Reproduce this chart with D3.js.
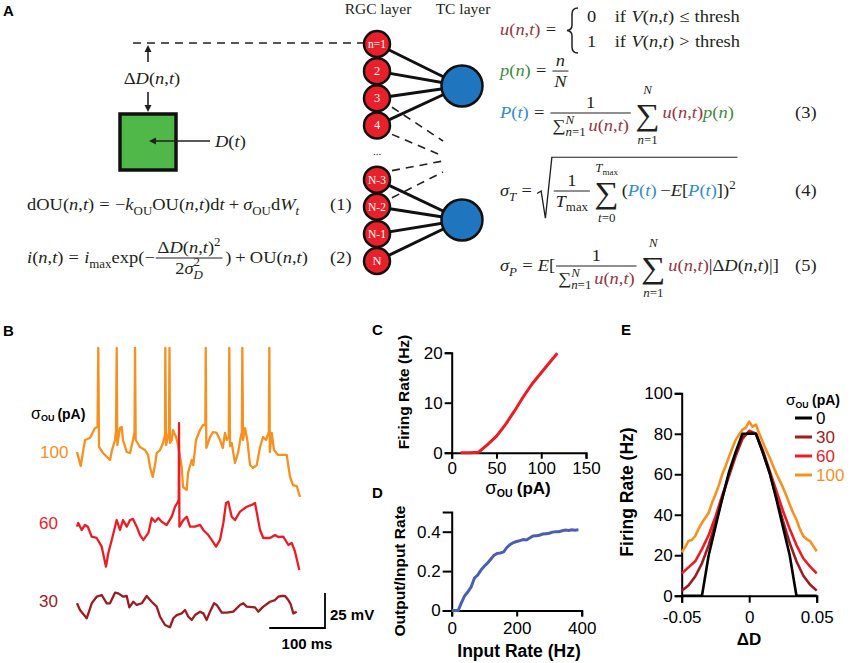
<!DOCTYPE html>
<html><head><meta charset="utf-8">
<script src="https://cdn.jsdelivr.net/npm/d3@7"></script>
<style>body{margin:0;background:#fff}svg{display:block}</style>
</head><body>
<svg id="fig" width="851" height="663"></svg>
<script>
// ================= DATA =================
// Panel B: membrane potential traces [time ms, mV]
const trace100 = [[0,-49.3],[6.6,-59.3],[14.4,-40.7],[23.3,-39.3],[32.3,-32.2],[36.8,-31.4],[38.2,25],[39.5,-45.7],[46.6,-50.0],[53.8,-52.9],[59.2,-55],[62.8,-47.9],[68.2,-40.7],[70.0,-33.6],[71.2,25],[72.3,-44.3],[77.1,-32.2],[80.2,-31.4],[82.5,-40.7],[89.2,-49.3],[95.1,-50.0],[100.5,-40.7],[103.2,-35.0],[104.1,25],[105.3,-40.7],[113.0,-45.7],[122.0,-47.9],[127.4,-51.4],[131.0,-60.0],[135.8,-67.1],[139.9,-58.6],[143.0,-50.0],[148.9,-47.9],[154.3,-42.9],[157.9,-37.2],[158.4,25],[159.7,-44.3],[162.0,-40.7],[165.0,-35.0],[165.9,25],[166.8,-42.9],[169.9,-40.7],[172.2,-33.6],[177.6,-38.6],[181.2,-44.3],[187.8,-60.0],[190.2,-74.3],[196.8,-76.4],[199.1,-64.3],[205.8,-55],[208.6,-58.6],[213.5,-40.7],[220.7,-33.6],[226.0,-30.0],[230.2,-30.0],[230.9,25],[232.0,-46.4],[238.6,-38.6],[244.0,-35.0],[250.6,-35.7],[256.5,-40.7],[261.4,-46.4],[265.5,-35.7],[268.6,-40.7],[272.2,-38.6],[273.2,25],[274.5,-45.0],[277.5,-42.9],[283.4,-57.1],[288.8,-50.0],[293.7,-38.6],[295.7,-35.0],[296.6,25],[297.8,-40.7],[301.4,-32.2],[305.5,-40.7],[310.4,-58.6],[315.7,-60.7],[322.4,-58.6],[328.3,-45.7],[333.7,-38.6],[339.1,-40.7],[344.1,-35.0],[345.0,25],[345.9,-49.3],[349.3,-35.7],[353.4,-47.9],[360.6,-51.4],[376.2,-51.4],[382.1,-67.1],[387.5,-72.9],[394.1,-73.6],[400,-81.4]];
const trace60 = [[0,-52.6],[2.3,-50.0],[8.4,-55],[14.4,-51.4],[19.7,-52.9],[26.4,-59.8],[35.3,-60.7],[44.3,-66.9],[52.0,-81.2],[56.2,-71.4],[62.3,-62.1],[71.2,-47.9],[77.1,-55],[82.5,-47.9],[89.2,-52.6],[95.1,-47.9],[100.5,-47.1],[107.1,-52.6],[113.0,-58.6],[119.0,-62.1],[128.0,-57.1],[134.0,-46.4],[139.9,-49.1],[145.9,-46.4],[151.9,-49.1],[160.9,-51.4],[169.9,-45.5],[175.8,-38.4],[179.9,-35.7],[182.4,-33.6],[183.0,21.4],[183.7,-52.6],[190.7,-47.9],[196.8,-45.5],[202.7,-52.6],[211.7,-52.6],[220.7,-51.4],[226.6,-55],[235.5,-58.6],[241.6,-62.1],[249.4,-66.9],[256.5,-62.1],[262.5,-50.0],[267.3,-35.7],[271.4,-34.8],[277.5,-45.5],[283.4,-47.9],[292.4,-41.9],[304.4,-38.4],[313.4,-37.1],[319.3,-35.7],[328.3,-55],[334.2,-60.7],[346.2,-60.7],[355.2,-58.6],[361.1,-60.0],[370.1,-59.8],[379.1,-65.7],[385.2,-64.3],[391.1,-70.5],[398.8,-83.6]];
const trace30 = [[0,-50.2],[5.4,-55],[17.4,-60.9],[26.4,-50.2],[35.3,-45.5],[44.3,-44.3],[53.3,-50.2],[59.2,-50.2],[68.2,-42.6],[74.1,-43.1],[83.1,-45.5],[89.2,-45.0],[93.8,-53.1],[101.0,-49.1],[107.1,-51.4],[116.1,-50.2],[125.0,-45.0],[134.0,-49.1],[143.0,-52.6],[148.9,-59.8],[157.9,-65.7],[166.8,-67.3],[172.8,-60.9],[178.9,-58.6],[187.8,-57.4],[193.7,-55],[199.7,-59.8],[205.8,-62.1],[211.7,-58.6],[220.7,-56.2],[226.6,-57.4],[232.6,-62.1],[238.6,-56.2],[245.8,-50.2],[250.6,-51.4],[259.6,-56.9],[268.6,-56.9],[280.4,-56.2],[292.4,-51.4],[298.3,-50.2],[304.4,-52.6],[319.3,-53.1],[325.2,-56.2],[334.2,-52.6],[346.2,-49.1],[355.2,-47.9],[361.1,-45.5],[367.2,-45.0],[373.1,-45.0],[379.1,-47.9],[383.1,-50.7],[388.1,-57.4],[394.1,-56.2]];
const traceLabels = ['100','60','30'];

// Panel C
const sigmaC = [10,20,30,40,50,60,70,80,90,100,110,118];
const rateC  = [0,0,0.1,1.6,3.3,5.6,8.3,11.2,13.8,16.0,18.2,19.9];
const ticksCx = [0,50,100,150], ticksCy = [0,10,20];

// Panel D
const inputD = [0,20,30,40,50,60,70,80,90,100,110,120,130,140,150,160,170,180,190,200,210,220,230,240,250,260,270,280,290,300,310,320,330,340,350,360,370,380,390];
const ratioD = [0,0,0.04,0.075,0.095,0.12,0.165,0.18,0.205,0.225,0.24,0.26,0.28,0.29,0.292,0.298,0.32,0.335,0.345,0.35,0.355,0.36,0.358,0.368,0.378,0.38,0.382,0.388,0.39,0.392,0.398,0.4,0.4,0.405,0.408,0.406,0.41,0.408,0.41];
const ticksDx = [0,200,400], ticksDy = [0,0.2,0.4];

// Panel E
const dD = [-0.05,-0.045,-0.04,-0.035,-0.03,-0.025,-0.02,-0.015,-0.01,-0.005,0,0.005,0.01,0.015,0.02,0.025,0.03,0.035,0.04,0.045,0.05];
const rateE0  = [0,0,0,0,20,34,48,61,71,80,80,80,71,61,48,34,20,0,0,0,0];
const rateE30 = [2.5,5,9.5,16,25,36,48,60,70,78,81,80,71,61,49,37,26,17,10,5.5,2.5];
const rateE60 = [11,14,17,23,30,39,49.5,59,69,77.5,81.5,80,72,62,52,42,33,25,18.5,14.5,11];
const dDfine = [-0.05,-0.0475,-0.045,-0.0425,-0.04,-0.0375,-0.035,-0.0325,-0.03,-0.0275,-0.025,-0.0225,-0.02,-0.0175,-0.015,-0.0125,-0.01,-0.0075,-0.005,-0.0025,0,0.0025,0.005,0.0075,0.01,0.0125,0.015,0.0175,0.02,0.0225,0.025,0.0275,0.03,0.0325,0.035,0.0375,0.04,0.0425,0.045,0.0475,0.05];
const rateE100 = [21.5,24,27,27.5,29.5,33,36,38.5,41,46,50,54.5,60,64,68.5,73,77,79.5,82,83,86,83.5,84.5,80,76,72,68.5,64.5,60.5,57,53.5,49.5,45,41,37.5,33,29.5,28,27,24.5,22];
const legendE = ['0','30','60','100'];
const ticksEx = [-0.05,0,0.05], ticksEy = [0,20,40,60,80,100];

// Panel A network
const rgcLabels = ['n=1','2','3','4','N-3','N-2','N-1','N'];

// ================= STYLE =================
const SANS = "'Liberation Sans', Arial, Helvetica, sans-serif";
const SERIF = "'Liberation Serif', 'Times New Roman', serif";
const INK = '#231f20';
const ORANGE = '#f7901e', RED = '#ec1c24', DRED = '#9e1b20';
const U = '#943444', G = '#3d8b40', B = '#2e8ccf';

const svg = d3.select('#fig');
svg.append('rect').attr('width',851).attr('height',663).attr('fill','#fff');

[['A',3,16],['B',3,336],['C',372,335],['D',372,498],['E',621,335]].forEach(([t,x,y])=>{
  svg.append('text').attr('x',x).attr('y',y).attr('font-family',SANS).attr('font-weight','bold').attr('font-size',15).attr('fill','#000').text(t);
});

// ================= math text helper =================
const r=(t,c)=>({t,c}), it=(t,c)=>({t,i:1,c}), sb=(t,ii)=>({t,sh:'sub',i:ii}), su=(t,ii)=>({t,sh:'sup',i:ii});
function mrow(g,x,y,items,fs){
  let cx=x;
  for(const q of items){
    if(typeof q==='number'){cx+=q*fs;continue;}
    if(q.frac){
      const gn=g.append('g'), gd=g.append('g');
      const wn=mrow(gn,0,0,q.frac[0],fs), wd=mrow(gd,0,0,q.frac[1],fs);
      const w=Math.max(wn,wd)+0.3*fs;
      const ax=y-0.3*fs;
      gn.attr('transform',`translate(${cx+(w-wn)/2},${ax-0.3*fs})`);
      gd.attr('transform',`translate(${cx+(w-wd)/2},${ax+(q.dd||0.95)*fs})`);
      g.append('line').attr('x1',cx+0.05*fs).attr('x2',cx+w-0.05*fs).attr('y1',ax).attr('y2',ax).attr('stroke',INK).attr('stroke-width',1);
      cx+=w+0.1*fs; continue;
    }
    if(q.sum){
      const big=g.append('text').attr('font-family',SERIF).attr('font-size',fs*1.85).attr('fill',INK).attr('y',y+0.42*fs).text('∑');
      const wb=big.node().getComputedTextLength();
      const gt=g.append('g'), gb=g.append('g');
      const wt=mrow(gt,0,0,q.sum[0],fs*0.7), wl=mrow(gb,0,0,q.sum[1],fs*0.7);
      const w=Math.max(wb,wt,wl);
      big.attr('x',cx+(w-wb)/2);
      gt.attr('transform',`translate(${cx+(w-wt)/2},${y-1.45*fs})`);
      gb.attr('transform',`translate(${cx+(w-wl)/2},${y+1.55*fs})`);
      cx+=w+0.15*fs; continue;
    }
    if(q.ss){
      const gu=g.append('g'), gl=g.append('g');
      const wu=mrow(gu,0,0,q.ss[0],fs*0.7), wl=mrow(gl,0,0,q.ss[1],fs*0.7);
      gu.attr('transform',`translate(${cx},${y-0.45*fs})`);
      gl.attr('transform',`translate(${cx},${y+0.3*fs})`);
      cx+=Math.max(wu,wl); continue;
    }
    if(q.sqrt){
      const x0=cx;
      const wc=mrow(g,x0+0.85*fs,y,q.sqrt,fs);
      const top=y-q.top*fs, bot=y+q.bot*fs, end=x0+0.85*fs+wc+0.1*fs;
      g.append('path').attr('d',`M${x0},${y-0.15*fs} L${x0+0.22*fs},${y-0.3*fs} L${x0+0.45*fs},${bot} L${x0+0.8*fs},${top} L${end},${top}`)
        .attr('fill','none').attr('stroke',INK).attr('stroke-width',1.2);
      cx=end+0.1*fs; continue;
    }
    const k=q.sh?0.7:1;
    const dy=q.sh==='sub'?0.28*fs:q.sh==='sup'?-0.42*fs:0;
    const t=g.append('text').attr('x',cx).attr('y',y+dy).attr('font-family',SERIF)
      .attr('font-size',fs*k).attr('font-style',q.i?'italic':null).attr('fill',q.c||INK).text(q.t);
    cx+=t.node().getComputedTextLength();
  }
  return cx-x;
}
const SX = 1.12;
function eq(g,x,y,items,fs){
  const gg=g.append('g').attr('transform',`translate(${x},0) scale(${SX},1)`);
  return mrow(gg,0,y,items,fs)*SX;
}
function eqc(g,cx,y,items,fs){
  const gg=g.append('g'); const w=mrow(gg,0,y,items,fs)*SX;
  gg.attr('transform',`translate(${cx-w/2},0) scale(${SX},1)`);
}
const uNT=[it('u',U),r('(',U),it('n',U),r(',',U),it('t',U),r(')',U)];
const nt=[r('('),it('n'),r(','),it('t'),r(')')];
const sumDen=[r('∑'),{ss:[[it('N')],[it('n'),r('=1')]]},0.15,...uNT];

// ================= PANEL A =================
const A = svg.append('g');
const FS = 16.5;
A.append('line').attr('x1',133).attr('x2',364).attr('y1',43).attr('y2',43).attr('stroke',INK).attr('stroke-width',1.6).attr('stroke-dasharray','8,6');
function arrow(x1,y1,x2,y2){
  const a=Math.atan2(y2-y1,x2-x1), L=7, W=3.5;
  const bx=x2-L*Math.cos(a), by=y2-L*Math.sin(a);
  A.append('line').attr('x1',x1).attr('y1',y1).attr('x2',bx).attr('y2',by).attr('stroke',INK).attr('stroke-width',1.6);
  A.append('path').attr('d',`M${x2},${y2} L${bx-W*Math.sin(a)},${by+W*Math.cos(a)} L${bx+W*Math.sin(a)},${by-W*Math.cos(a)}Z`).attr('fill',INK);
}
arrow(148,62,148,45);
arrow(148,92,148,112);
eqc(A,152,84,[r('Δ'),it('D'),...nt],FS);
A.append('rect').attr('x',120).attr('y',114).attr('width',56).attr('height',56).attr('fill','#4fb848').attr('stroke','#111').attr('stroke-width',3.5);
arrow(210,141,149,141);
eq(A,215,147,[it('D'),r('('),it('t'),r(')')],FS);

eq(A,27,210,[r('dOU'),...nt,0.28,r('='),0.28,r('−'),it('k'),sb('OU'),r('OU'),...nt,r('d'),it('t'),0.22,r('+'),0.22,it('σ'),sb('OU'),r('d'),it('W'),sb('t',1)],FS);
eq(A,330,210,[r('(1)')],FS);
eq(A,27,263,[it('i'),...nt,0.28,r('='),0.28,it('i'),sb('max'),r('exp(−'),
  {frac:[[r('Δ'),it('D'),...nt,su('2')],[r('2'),it('σ'),{ss:[[r('2')],[it('D')]]}]]},r(')'),0.22,r('+'),0.22,r('OU'),...nt],FS);
eq(A,330,263,[r('(2)')],FS);

// network
A.append('text').attr('x',378).attr('y',14).attr('text-anchor','middle').attr('font-family',SERIF).attr('font-size',15.5).attr('fill',INK).text('RGC layer');
A.append('text').attr('x',463).attr('y',14).attr('text-anchor','middle').attr('font-family',SERIF).attr('font-size',15.5).attr('fill',INK).text('TC layer');
const rgcIdx = rgcLabels.map((d,k)=> k<4?k:k+1);
const yNet = d3.scaleLinear().domain([0,8]).range([44,261]);
const tc = [{x:462,y:86},{x:462,y:220}];
const rgcX = 377;
[[2,443,141],[3,443,156],[5,443,161],[6,443,172]].forEach(([k,x2,y2])=>{
  const y1=yNet(k), x1=rgcX+14;
  A.append('line').attr('x1',x1+1).attr('y1',y1+(y2>y1?9:-9)).attr('x2',x2).attr('y2',y2).attr('stroke',INK).attr('stroke-width',1.6).attr('stroke-dasharray','8,6');
});
rgcLabels.forEach((d,k)=>{
  const t = tc[k<4?0:1];
  A.append('line').attr('x1',rgcX).attr('y1',yNet(rgcIdx[k])).attr('x2',t.x).attr('y2',t.y).attr('stroke','#111').attr('stroke-width',3);
});
tc.forEach(t=>A.append('circle').attr('cx',t.x).attr('cy',t.y).attr('r',20.5).attr('fill','#1f76be').attr('stroke','#111').attr('stroke-width',2.5));
rgcLabels.forEach((d,k)=>{
  const cy=yNet(rgcIdx[k]);
  A.append('circle').attr('cx',rgcX).attr('cy',cy).attr('r',13).attr('fill','#e8202a').attr('stroke','#111').attr('stroke-width',2.5);
  A.append('text').attr('x',rgcX).attr('y',cy+4).attr('text-anchor','middle').attr('font-family',SERIF).attr('font-size',d.length>2?11.5:12.5).attr('fill','#fff').text(d);
});
A.append('text').attr('x',rgcX).attr('y',yNet(4)+2).attr('text-anchor','middle').attr('font-family',SERIF).attr('font-size',11).attr('fill',INK).text('...');

// right equations
eq(A,500,35,[...uNT,0.28,r('='),0.28],FS);
A.append('path').attr('d','M578,8 Q572,8 572,14 L572,25 Q572,30 567,30.5 Q572,31 572,36 L572,47 Q572,53 578,53').attr('fill','none').attr('stroke',INK).attr('stroke-width',1.5);
eq(A,587,22,[r('0'),1.0,r('if'),0.3,it('V'),...nt,0.28,r('≤'),0.28,r('thresh')],FS);
eq(A,587,47,[r('1'),1.0,r('if'),0.3,it('V'),...nt,0.28,r('>'),0.28,r('thresh')],FS);
eq(A,500,76,[it('p',G),r('(',G),it('n',G),r(')',G),0.28,r('='),0.28,{frac:[[it('n')],[it('N')]]}],FS);
eq(A,500,118,[it('P',B),r('(',B),it('t',B),r(')',B),0.28,r('='),0.28,{frac:[[r('1')],sumDen],dd:1.1},0.1,
  {sum:[[it('N')],[it('n'),r('=1')]]},...uNT,it('p',G),r('(',G),it('n',G),r(')',G)],FS);
eq(A,795,118,[r('(3)')],FS);
const Pt=[it('P',B),r('(',B),it('t',B),r(')',B)];
eq(A,500,196,[it('σ'),sb('T',1),0.28,r('='),0.28,{sqrt:[{frac:[[r('1')],[it('T'),sb('max')]]},0.1,
  {sum:[[it('T'),sb('max')],[it('t'),r('=0')]]},r('('),...Pt,0.2,r('−'),it('E'),r('['),...Pt,r('])'),su('2')],top:2.35,bot:1.35}],FS);
eq(A,795,196,[r('(4)')],FS);
eq(A,500,271,[it('σ'),sb('P',1),0.28,r('='),0.28,it('E'),r('['),{frac:[[r('1')],sumDen],dd:1.1},0.1,
  {sum:[[it('N')],[it('n'),r('=1')]]},...uNT,r('|Δ'),it('D'),...nt,r('|]')],FS);
eq(A,795,271,[r('(5)')],FS);

// ================= PANEL B =================
const Bg = svg.append('g');
const xB = d3.scaleLinear().domain([0,400]).range([77,300]);
const traces = [
  {data:trace100, ref:460, color:ORANGE, ly:458},
  {data:trace60,  ref:530, color:RED,    ly:529},
  {data:trace30,  ref:610, color:DRED,   ly:607}
];
traces.forEach((tr,k)=>{
  tr.y = d3.scaleLinear().domain([-55,-30]).range([tr.ref,tr.ref-35]);
  Bg.append('path').datum(tr.data).attr('fill','none').attr('stroke',tr.color).attr('stroke-width',2.3).attr('stroke-linejoin','round')
    .attr('d',d3.line().x(d=>xB(d[0])).y(d=>tr.y(d[1])));
  Bg.append('text').attr('x',k===0?40:39).attr('y',tr.ly).attr('font-family',SANS).attr('font-size',17).attr('fill',tr.color).text(traceLabels[k]);
});
const sl = Bg.append('text').attr('x',31).attr('y',419).attr('font-family',SANS).attr('font-size',14).attr('font-weight','bold').attr('fill','#000');
sl.append('tspan').attr('font-weight','normal').attr('font-size',16).text('σ');
sl.append('tspan').attr('font-size',9).attr('dy',2).text('OU');
sl.append('tspan').attr('dy',-2).attr('dx',3).text('(pA)');
const ys = traces[2].y, sbX = 325, sbY = 628;
Bg.append('path').attr('d',`M${sbX-(xB(100)-xB(0))},${sbY} H${sbX} V${sbY-(ys(-55)-ys(-30))}`).attr('fill','none').attr('stroke','#000').attr('stroke-width',1.8);
Bg.append('text').attr('x',330).attr('y',620).attr('font-family',SANS).attr('font-weight','bold').attr('font-size',15).attr('fill','#000').text('25 mV');
Bg.append('text').attr('x',307).attr('y',649).attr('text-anchor','middle').attr('font-family',SANS).attr('font-weight','bold').attr('font-size',15).attr('fill','#000').text('100 ms');

// ================= axes helper =================
function styleAxis(g){
  g.attr('font-family',SANS).attr('font-size',17);
  g.selectAll('.domain').attr('stroke','#000').attr('stroke-width',2);
  g.selectAll('.tick line').attr('stroke','#000').attr('stroke-width',2);
  g.selectAll('.tick text').attr('fill','#000');
}
function sigmaLabel(g,x,y,size){
  const t=g.append('text').attr('x',x).attr('y',y).attr('text-anchor','middle').attr('font-family',SANS).attr('font-weight','bold').attr('font-size',size).attr('fill','#000');
  t.append('tspan').attr('font-weight','normal').attr('font-size',size*1.1).text('σ');
  t.append('tspan').attr('font-size',size*0.62).attr('dy',size*0.18).text('OU');
  t.append('tspan').attr('dy',-size*0.18).attr('dx',size*0.25).text('(pA)');
  return t;
}

// ================= PANEL C =================
const Cg = svg.append('g');
const xC = d3.scaleLinear().domain([0,150]).range([451.7,586]);
const yC = d3.scaleLinear().domain([0,20]).range([452.7,352.7]);
Cg.append('g').attr('transform','translate(0,452.7)').call(d3.axisBottom(xC).tickValues(ticksCx).tickSizeOuter(0).tickSize(6).tickPadding(3)).call(styleAxis);
Cg.append('g').attr('transform','translate(451.7,0)').call(d3.axisLeft(yC).tickValues(ticksCy).tickSizeOuter(0).tickSize(7).tickPadding(2)).call(styleAxis);
Cg.append('path').datum(sigmaC.map((s,k)=>[s,rateC[k]])).attr('fill','none').attr('stroke',RED).attr('stroke-width',3)
  .attr('d',d3.line().x(d=>xC(d[0])).y(d=>yC(d[1])));
Cg.append('text').attr('transform','translate(409,392) rotate(-90)').attr('text-anchor','middle').attr('font-family',SANS).attr('font-weight','bold').attr('font-size',15.5).attr('fill','#000').text('Firing Rate (Hz)');
sigmaLabel(Cg,518,494,17);

// ================= PANEL D =================
const Dg = svg.append('g');
const xD = d3.scaleLinear().domain([0,400]).range([451.7,581.7]);
const yD = d3.scaleLinear().domain([0,0.5]).range([610.5,512]);
Dg.append('g').attr('transform','translate(0,610.5)').call(d3.axisBottom(xD).tickValues(ticksDx).tickSizeOuter(0).tickSize(6).tickPadding(5)).call(styleAxis);
Dg.append('g').attr('transform','translate(451.7,0)').call(d3.axisLeft(yD).tickValues(ticksDy).tickFormat(d=>d===0?'0':d.toFixed(1)).tickSizeOuter(0).tickSize(9).tickPadding(2)).call(styleAxis);
Dg.append('path').datum(inputD.map((s,k)=>[s,ratioD[k]])).attr('fill','none').attr('stroke','#4b5fb2').attr('stroke-width',3)
  .attr('d',d3.line().x(d=>xD(d[0])).y(d=>yD(d[1])));
Dg.append('text').attr('transform','translate(405,571) rotate(-90)').attr('text-anchor','middle').attr('font-family',SANS).attr('font-weight','bold').attr('font-size',15.5).attr('fill','#000').text('Output/Input Rate');
Dg.append('text').attr('x',519).attr('y',657).attr('text-anchor','middle').attr('font-family',SANS).attr('font-weight','bold').attr('font-size',17.5).attr('fill','#000').text('Input Rate (Hz)');

// ================= PANEL E =================
const Eg = svg.append('g');
const xE = d3.scaleLinear().domain([-0.05,0.05]).range([681.7,816.7]);
const yE = d3.scaleLinear().domain([0,100]).range([595.7,393.3]);
Eg.append('g').attr('transform','translate(0,595.7)').call(d3.axisBottom(xE).tickValues(ticksEx).tickFormat(d=>d===0?'0':String(+d.toFixed(2))).tickSizeOuter(0).tickSize(7).tickPadding(8)).call(styleAxis);
Eg.append('g').attr('transform','translate(681.7,0)').call(d3.axisLeft(yE).tickValues(ticksEy).tickSizeOuter(0).tickSize(7).tickPadding(2)).call(styleAxis);
const lineE = d3.line().x(d=>xE(d[0])).y(d=>yE(d[1]));
const seriesE = [
  {x:dDfine, y:rateE100, c:ORANGE},
  {x:dD, y:rateE60, c:RED},
  {x:dD, y:rateE30, c:DRED},
  {x:dD, y:rateE0, c:'#000'}
];
seriesE.forEach(s=>{
  Eg.append('path').datum(s.x.map((v,k)=>[v,s.y[k]])).attr('fill','none').attr('stroke',s.c).attr('stroke-width',2.6).attr('stroke-linejoin','round').attr('d',lineE);
});
Eg.append('text').attr('transform','translate(633,492) rotate(-90)').attr('text-anchor','middle').attr('font-family',SANS).attr('font-weight','bold').attr('font-size',17.5).attr('fill','#000').text('Firing Rate (Hz)');
Eg.append('text').attr('x',749).attr('y',645).attr('text-anchor','middle').attr('font-family',SANS).attr('font-weight','bold').attr('font-size',17).attr('fill','#000').text('ΔD');
const lt = sigmaLabel(Eg,0,405,14); lt.attr('text-anchor','start').attr('x',786);
const legColors = ['#000',DRED,RED,ORANGE];
const yLeg = d3.scalePoint().domain(legendE).range([418,475]);
legendE.forEach((d,k)=>{
  Eg.append('line').attr('x1',795).attr('x2',812).attr('y1',yLeg(d)).attr('y2',yLeg(d)).attr('stroke',legColors[k]).attr('stroke-width',3);
  Eg.append('text').attr('x',816).attr('y',yLeg(d)+6).attr('font-family',SANS).attr('font-size',17).attr('fill',legColors[k]).text(d);
});
</script>
</body></html>
